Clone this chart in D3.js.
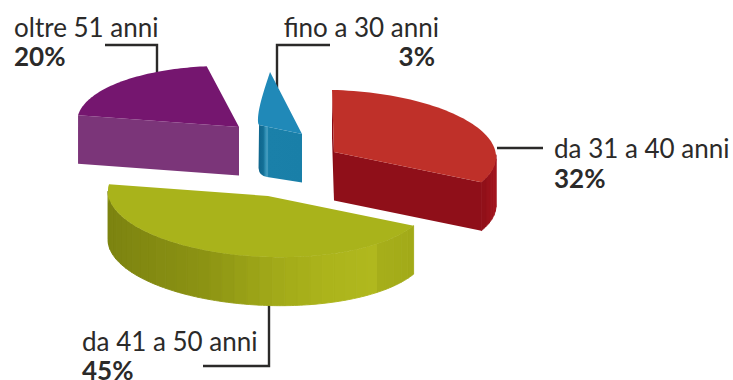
<!DOCTYPE html>
<html><head><meta charset="utf-8">
<script src="https://cdn.jsdelivr.net/npm/d3@7"></script>
<style>html,body{margin:0;padding:0;background:#fff;overflow:hidden}svg{display:block}
text{font-family:Lato,"Open Sans",sans-serif;fill:#2b2a29;font-size:26px}
.pct{font-weight:700}</style></head><body>
<svg id="c" width="733" height="380"></svg>
<script>
const categories = ["fino a 30 anni","da 31 a 40 anni","da 41 a 50 anni","oltre 51 anni"];
const shares = [3,32,45,20];
const shareLabels = ["3%","32%","45%","20%"];
const topColors = ["#2089b8","#bf3029","#a9b31b","#75166f"];
const sideColors = ["#197fa8","#8f0f19","#a9b31b","#7b3579"];

const startDeg = -11.5, depth = 48.5, shear = 0.03;
// per-slice exploded placement and projection of the unit circle
const proj = [
  {cx:302,cy:134,xs:62.1,xc:-31.2,ys:-276.1,yc:-65.4,bulge:-3},
  {cx:334,cy:152,xs:162,xc:0,ys:162*shear,yc:-62,bulge:0},
  {cx:268,cy:196,xs:160,xc:0,ys:160*shear,yc:-61,bulge:0},
  {cx:239,cy:127,xs:162,xc:0,ys:162*shear,yc:-61,bulge:0}
];
const labels = [
  {y:37,px:435,py:66,anchor:"end",nameX:439},
  {y:158,px:554,py:188,anchor:"start",nameX:554},
  {y:351,px:82,py:380,anchor:"start",nameX:82},
  {y:37,px:14,py:66,anchor:"start",nameX:14}
];
const leaders = [
  [[330,45],[277,45],[277,88]],
  [[543,148],[497,148]],
  [[203,366],[269,366],[269,305]],
  [[105,45],[157,45],[157,72]]
];

const svg = d3.select("#c");
const defs = svg.append("defs");
const g0 = defs.append("linearGradient").attr("id","finoFace").attr("gradientUnits","userSpaceOnUse")
  .attr("x1",258).attr("x2",302).attr("y1",0).attr("y2",0);
[[0,"#0f658c"],[.12,"#136f96"],[.17,"#2f8fb5"],[.21,"#4a9fc1"],[.24,"#1a80a9"],[1,"#197fa8"]]
  .forEach(s=>g0.append("stop").attr("offset",s[0]).attr("stop-color",s[1]));

const pie = d3.pie().sort(null).value(d=>d)
  .startAngle(startDeg*Math.PI/180).endAngle((startDeg+360)*Math.PI/180);
const arcs = pie(shares);

const pt = (i,a,z=0,t=null)=>{
  const p = proj[i];
  const b = t===null?0:p.bulge*Math.sin(Math.PI*Math.pow(t,.6));
  return [p.cx+p.xs*Math.sin(a)+p.xc*Math.cos(a)+b, p.cy+p.ys*Math.sin(a)+p.yc*Math.cos(a)+z];
};
const line = d3.line();
const rim = (i,a0,a1,z=0,n=60)=>d3.range(n+1).map(k=>{const t=k/n;return pt(i,a0+(a1-a0)*t,z,t);});
const apex = (i,z=0)=>[proj[i].cx,proj[i].cy+z];

// colour of the outer wall facets along x
const greenWall = d3.scaleLinear().domain([107,200,270,320,374,376,413])
  .range(["#7c8310","#8b9213","#a0a818","#abb31b","#b0b81e","#a7af1a","#a2aa19"]);
const redWall = d3.scaleLinear().domain([480,497]).range(["#8c0f18","#a5161f"]);

function wall(i,a0,a1,step,color){
  const n = Math.max(1,Math.round((a1-a0)/step));
  for(let k=0;k<n;k++){
    const b0=a0+(a1-a0)*k/n,b1=a0+(a1-a0)*(k+1)/n;
    const top=rim(i,b0,b1,0,4),bot=rim(i,b1,b0,depth,4);
    const mx=pt(i,(b0+b1)/2)[0];
    const c=color(mx);
    svg.append("path").attr("d",line(top.concat(bot))+"Z").attr("fill",c).attr("stroke",c).attr("stroke-width",.9);
  }
}
function drawLeader(i){
  svg.append("path").attr("d",line(leaders[i])).attr("fill","none").attr("stroke","#2b2a29").attr("stroke-width",2.4);
}

const rad = Math.PI/180;
leaders.forEach((_,i)=>drawLeader(i));

// oltre 51 anni
(function(){const i=3,a=arcs[i];
  svg.append("path").attr("d",line([pt(i,a.startAngle),apex(i),apex(i,depth),pt(i,a.startAngle,depth)])+"Z").attr("fill",sideColors[i]);
  svg.append("path").attr("d",line(rim(i,a.startAngle,a.endAngle).concat([apex(i)]))+"Z").attr("fill",topColors[i]);
})();

// fino a 30 anni
(function(){const i=0,a=arcs[i];
  const s=pt(i,a.startAngle),ap=apex(i);
  const d=`M${s[0]},${s[1]}L${ap[0]},${ap[1]}L${ap[0]},${ap[1]+depth}L${s[0]+8},${s[1]+52}Q${s[0]},${s[1]+51} ${s[0]-.5},${s[1]+43}Z`;
  svg.append("path").attr("d",d).attr("fill","url(#finoFace)");
  svg.append("path").attr("d",line(rim(i,a.startAngle,a.endAngle).concat([apex(i)]))+"Z").attr("fill",topColors[i]);
})();

// da 31 a 40 anni
(function(){const i=1,a=arcs[i];
  svg.append("path").attr("d",line([pt(i,a.startAngle),apex(i),apex(i,depth),pt(i,a.startAngle,depth)])+"Z").attr("fill","#8a0d16");
  wall(i,88*rad,a.endAngle,4*rad,d=>redWall(d));
  svg.append("path").attr("d",line([pt(i,a.endAngle),apex(i),apex(i,depth),pt(i,a.endAngle,depth)])+"Z").attr("fill",sideColors[i]);
  svg.append("path").attr("d",line(rim(i,a.startAngle,a.endAngle).concat([apex(i)]))+"Z").attr("fill",topColors[i]);
})();

// da 41 a 50 anni
(function(){const i=2,a=arcs[i];
  wall(i,a.startAngle,270*rad,4.6*rad,d=>greenWall(d));
  svg.append("path").attr("d",line([pt(i,a.endAngle),pt(i,270*rad),pt(i,270*rad,12),pt(i,a.endAngle,12)])+"Z").attr("fill","#a9b31b");
  svg.append("path").attr("d",line(rim(i,a.startAngle,a.endAngle).concat([apex(i)]))+"Z").attr("fill",topColors[i]);
})();

categories.forEach((c,i)=>{
  const l=labels[i];
  svg.append("text").attr("x",l.nameX).attr("y",l.y).attr("text-anchor",l.anchor).text(c);
  svg.append("text").attr("class","pct").attr("x",l.px).attr("y",l.py).attr("text-anchor",l.anchor).text(shareLabels[i]);
});
</script></body></html>
